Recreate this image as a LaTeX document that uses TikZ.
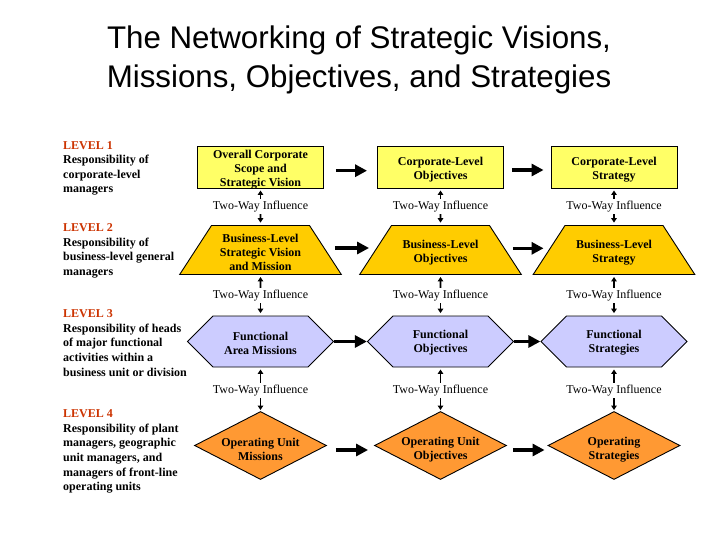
\documentclass[tikz,border=0pt]{standalone}
\usepackage{fontspec}
\setmainfont{Liberation Serif}
\newfontfamily\titlefont{Liberation Sans}
\usetikzlibrary{shapes.geometric,shapes.symbols,arrows.meta}
\definecolor{yellowc}{RGB}{255,255,102}
\definecolor{goldc}{RGB}{255,204,0}
\definecolor{lavc}{RGB}{204,204,255}
\definecolor{orangec}{RGB}{255,153,51}
\definecolor{levred}{RGB}{204,51,0}
\newcommand{\inbox}[4]{\parbox[c][#1][c]{#2}{\centering\vspace*{#3}#4\par}}
\begin{document}
\begin{tikzpicture}[x=1pt,y=-1pt,
  shp/.style={draw=black, line width=0.9pt, inner sep=0pt, font=\bfseries\fontsize{12}{14}\selectfont},
  corp/.style={shp, rectangle, fill=yellowc, minimum width=126pt, minimum height=42pt},
  bus/.style={shp, trapezium, trapezium angle=57, fill=goldc},
  func/.style={shp, signal, signal to=east and west, fill=lavc, minimum width=146pt, minimum height=51pt},
  oper/.style={shp, diamond, aspect=1.94, fill=orangec, minimum width=132pt, minimum height=68pt},
  twoway/.style={inner sep=0pt, font=\fontsize{12}{14}\selectfont},
  levtext/.style={anchor=north west, align=left, inner sep=0pt, font=\bfseries\fontsize{12}{14.6}\selectfont},
  bigarrow/.style={-{Triangle[length=12pt,width=12pt]}, line width=3.5pt},
  smallarrow/.style={-{Triangle[length=4.5pt,width=5.5pt]}, line width=1.8pt}
]
\useasboundingbox[fill=white] (0,0) rectangle (728,546);

% title
\node[anchor=north, align=center, inner sep=0pt, font=\titlefont\fontsize{31.3}{39}\selectfont] (title) at (359,25.5)
  {The Networking of Strategic Visions,\\Missions, Objectives, and Strategies};

% level descriptions
\node[levtext] (lev1) at (63,141) {\textcolor{levred}{LEVEL 1}\\Responsibility of\\corporate-level\\managers};
\node[levtext] (lev2) at (63,223.5) {\textcolor{levred}{LEVEL 2}\\Responsibility of\\business-level general\\managers};
\node[levtext] (lev3) at (63,309.5) {\textcolor{levred}{LEVEL 3}\\Responsibility of heads\\of major functional\\activities within a\\business unit or division};
\node[levtext] (lev4) at (63,409.5) {\textcolor{levred}{LEVEL 4}\\Responsibility of plant\\managers, geographic\\unit managers, and\\managers of front-line\\operating units};

% row 1
\node[corp] (c1) at (260.5,167) {\inbox{42pt}{124pt}{6pt}{Overall Corporate\\Scope and\\Strategic Vision}};
\node[corp] (c2) at (440.5,167) {\inbox{42pt}{124pt}{6pt}{Corporate-Level\\Objectives}};
\node[corp] (c3) at (614,167) {\inbox{42pt}{124pt}{6pt}{Corporate-Level\\Strategy}};
% row 2
\node[bus] (b1) at (260.5,250) {\inbox{49pt}{98pt}{5pt}{Business-Level\\Strategic Vision\\and Mission}};
\node[bus] (b2) at (440.5,250) {\inbox{49pt}{98pt}{5pt}{Business-Level\\Objectives}};
\node[bus] (b3) at (614,250) {\inbox{49pt}{98pt}{5pt}{Business-Level\\Strategy}};
% row 3
\node[func] (f1) at (260.5,341.5) {\inbox{28pt}{90pt}{3pt}{Functional\\Area Missions}};
\node[func] (f2) at (440.5,341.5) {\inbox{28pt}{90pt}{3pt}{Functional\\Objectives}};
\node[func] (f3) at (614,341.5) {\inbox{28pt}{90pt}{3pt}{Functional\\Strategies}};
% row 4
\node[oper] (o1) at (260.5,445.5) {\inbox{24pt}{82pt}{8pt}{Operating Unit\\Missions}};
\node[oper] (o2) at (440.5,445.5) {\inbox{24pt}{82pt}{8pt}{Operating Unit\\Objectives}};
\node[oper] (o3) at (614,445.5) {\inbox{24pt}{82pt}{8pt}{Operating\\Strategies}};

% two-way labels
\foreach \c/\x in {1/260.5,2/440.5,3/614}{
  \node[twoway] (ta\c) at (\x,207) {Two-Way Influence};
  \node[twoway] (tb\c) at (\x,296) {Two-Way Influence};
  \node[twoway] (tc\c) at (\x,391) {Two-Way Influence};
}
\foreach \c in {1,2,3}{
  \draw[smallarrow, shorten <=2.5pt, shorten >=2pt] (ta\c.north) -- (c\c.south);
  \draw[smallarrow, shorten <=1.5pt, shorten >=2.4pt] (ta\c.south) -- (b\c.north);
  \draw[smallarrow, shorten <=2.5pt, shorten >=2pt] (tb\c.north) -- (b\c.south);
  \draw[smallarrow, shorten <=1.5pt, shorten >=2.4pt] (tb\c.south) -- (f\c.north);
  \draw[smallarrow, shorten <=2.5pt, shorten >=2pt] (tc\c.north) -- (f\c.south);
  \draw[smallarrow, shorten <=1.5pt, shorten >=1pt] (tc\c.south) -- (o\c.north);
}

% horizontal arrows
\draw[bigarrow, shorten <=12pt, shorten >=10pt] ([yshift=-3.7pt]c1.east) -- ([yshift=-3.7pt]c2.west);
\draw[bigarrow, shorten <=8pt, shorten >=7pt] ([yshift=-3pt]c2.east) -- ([yshift=-3pt]c3.west);
\draw[bigarrow, shorten <=9pt, shorten >=6pt] ([yshift=2pt]b1.east) -- ([yshift=2pt]b2.west);
\draw[bigarrow, shorten <=7pt, shorten >=5pt] ([yshift=1.7pt]b2.east) -- ([yshift=1.7pt]b3.west);
\draw[bigarrow] (f1.east) -- (f2.west);
\draw[bigarrow] (f2.east) -- (f3.west);
\draw[bigarrow, shorten <=9pt, shorten >=6pt] ([yshift=-4.5pt]o1.east) -- ([yshift=-4.5pt]o2.west);
\draw[bigarrow, shorten <=6pt, shorten >=3pt] ([yshift=-4.5pt]o2.east) -- ([yshift=-4.5pt]o3.west);
\end{tikzpicture}
\end{document}
